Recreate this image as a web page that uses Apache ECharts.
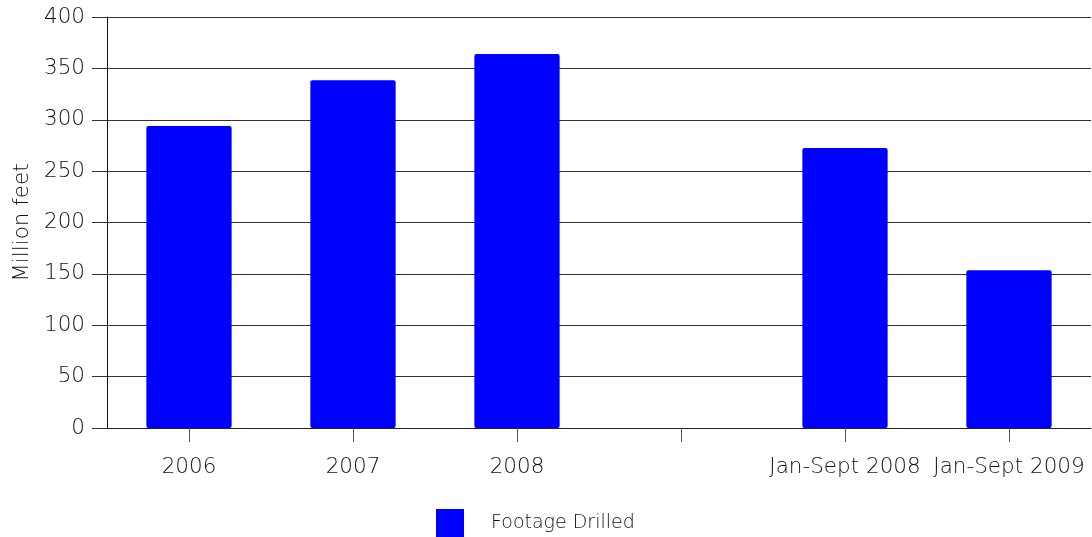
<!DOCTYPE html>
<html><head><meta charset="utf-8">
<script src="https://cdn.jsdelivr.net/npm/echarts@6/dist/echarts.min.js"></script>
<style>html,body{margin:0;padding:0;background:#fff}#c{width:1092px;height:537px}</style>
</head><body><div id="c"></div>
<script>
const categories = ['2006', '2007', '2008', '', 'Jan-Sept 2008', 'Jan-Sept 2009'];
const footageDrilled = [294, 338.5, 364, null, 272.5, 153.5];
const seriesName = 'Footage Drilled';
const yTicks = { min: 0, max: 400, interval: 50 };

const chart = echarts.init(document.getElementById('c'));
const font = 'DejaVu Sans';
const fw = 200;
chart.setOption({
  animation: false,
  grid: { left: 107, right: 1, top: 17, bottom: 109, containLabel: false, outerBoundsMode: 'none' },
  legend: {
    data: [seriesName], left: 436, top: 509, padding: 0, itemWidth: 28, itemHeight: 28,
    icon: 'rect',
    textStyle: { fontFamily: font, fontWeight: fw, fontSize: 19, color: '#111', padding: [3, 0, 0, 22] }
  },
  xAxis: {
    type: 'category', data: categories,
    axisLine: { lineStyle: { color: '#222', width: 1 } },
    axisTick: { show: true, alignWithLabel: true, length: 14, lineStyle: { color: '#555' } },
    axisLabel: { fontFamily: font, fontWeight: fw, fontSize: 21.5, color: '#111', margin: 28, interval: 0 }
  },
  yAxis: {
    type: 'value', min: yTicks.min, max: yTicks.max, interval: yTicks.interval,
    name: 'Million feet', nameLocation: 'middle', nameGap: 72,
    nameTextStyle: { fontFamily: font, fontWeight: fw, fontSize: 21.5, color: '#111' },
    axisLine: { show: true, lineStyle: { color: '#111', width: 1 } },
    axisTick: { show: true, length: 15, lineStyle: { color: '#333' } },
    axisLabel: { fontFamily: font, fontWeight: fw, fontSize: 21.5, color: '#111', margin: 22 },
    splitLine: { lineStyle: { color: '#333', width: 1 } }
  },
  series: [{
    name: seriesName, type: 'bar', data: footageDrilled, barWidth: '52%',
    itemStyle: { color: '#0000ff', borderRadius: 2 }
  }]
});
</script></body></html>
